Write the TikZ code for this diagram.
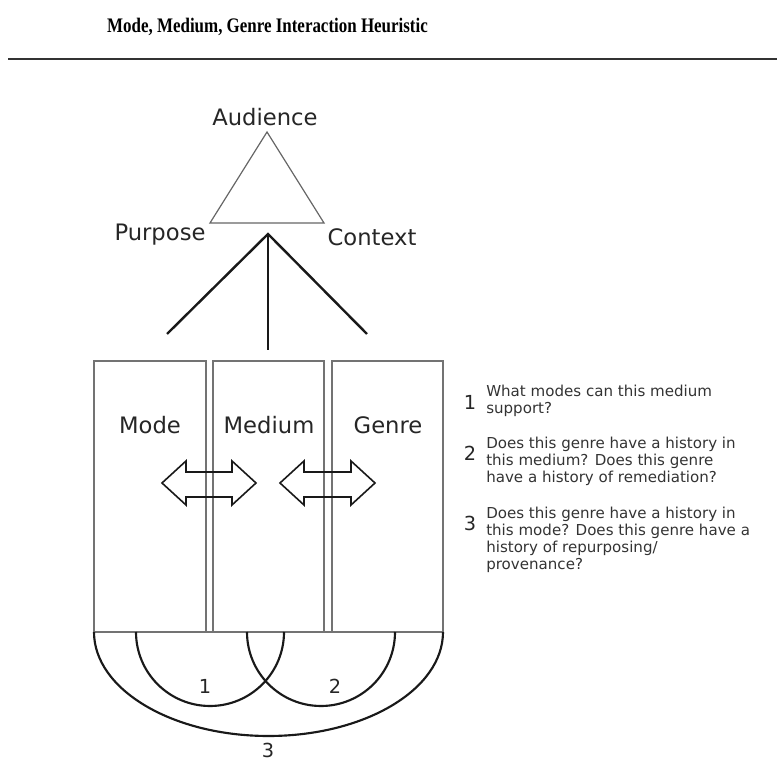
\documentclass[tikz,border=0pt]{standalone}
\usepackage{fontspec}
\setmainfont{Liberation Serif}
\newfontfamily\dejavu{DejaVu Sans}
\begin{document}
\begin{tikzpicture}[x=0.75pt,y=0.75pt,
  biglabel/.style={font=\dejavu\fontsize{17}{20}\selectfont, text=black!85, inner sep=0pt},
  numlabel/.style={font=\dejavu\fontsize{14.5}{16}\selectfont, text=black!85, inner sep=0pt},
  qtext/.style={font=\dejavu\fontsize{11.3}{12.8}\selectfont, text=black!80, align=left, inner sep=0pt, anchor=north west},
  colbox/.style={draw=black!55, line width=1pt},
  fan/.style={draw=black!90, line width=1.8pt},
  arcline/.style={draw=black!90, line width=1.6pt},
  dblarrow/.style={draw=black!90, line width=1.2pt, line join=miter}]
\useasboundingbox (0,0) rectangle (777,762);
% title
\node[inner sep=0pt] (title) at (267.5,735) {\scalebox{0.82}[1]{\fontsize{15.5}{17}\selectfont\bfseries Mode, Medium, Genre Interaction Heuristic}};
\coordinate (ruleL) at (8,703);
\coordinate (ruleR) at (777,703);
\draw[line width=1.6pt, black!80] (ruleL) -- (ruleR);
% triangle
\coordinate (apex) at (267,630);
\coordinate (bl) at (210,539);
\coordinate (br) at (324,539);
\draw[black!60, line width=0.9pt] (apex) -- (bl) -- (br) -- cycle;
\node[biglabel] (aud) at (265,645) {Audience};
\node[biglabel] (pur) at (160,527) {Purpose};
\node[biglabel] (con) at (372,525) {Context};
% fan
\coordinate (fantop) at (268,528);
\coordinate (fanL) at (167,428);
\coordinate (fanM) at (268,412);
\coordinate (fanR) at (367,428);
\draw[fan] (fanL) -- (fantop) -- (fanR);
\draw[fan] (fantop) -- (fanM);
% boxes
\draw[colbox] (94,130) rectangle (206,401);
\draw[colbox] (213,130) rectangle (324,401);
\draw[colbox] (332,130) rectangle (443,401);
\draw[colbox] (94,130) -- (443,130);
\node[biglabel] (mode) at (150,337) {Mode};
\node[biglabel] (medium) at (269,337) {Medium};
\node[biglabel] (genre) at (388,337) {Genre};
% double arrows
\draw[dblarrow] (162,279) -- (186,301) -- (186,290) -- (232,290) -- (232,301) -- (256,279)
  -- (232,257) -- (232,265) -- (186,265) -- (186,257) -- cycle;
\draw[dblarrow] (280,279) -- (304,301) -- (304,290) -- (351,290) -- (351,301) -- (375,279)
  -- (351,257) -- (351,265) -- (304,265) -- (304,257) -- cycle;
% arcs
\draw[arcline] (94,130) arc[start angle=180, end angle=360, x radius=174.5, y radius=104];
\draw[arcline] (136,130) arc[start angle=180, end angle=360, radius=74];
\draw[arcline] (247,130) arc[start angle=180, end angle=360, radius=74];
\node[numlabel] (a1) at (205,76) {1};
\node[numlabel] (a2) at (335,76) {2};
\node[numlabel] (a3) at (268,12) {3};
% questions
\node[numlabel] (q1n) at (470,360) {1};
\node[numlabel] (q2n) at (470,309) {2};
\node[numlabel] (q3n) at (470,239) {3};
\node[qtext] (q1) at (486,377) {What modes can this medium\\support?};
\node[qtext] (q2) at (486,325) {Does this genre have a history in\\this medium? Does this genre\\have a history of remediation?};
\node[qtext] (q3) at (486,255) {Does this genre have a history in\\this mode? Does this genre have a\\history of repurposing/\\provenance?};
\end{tikzpicture}
\end{document}
